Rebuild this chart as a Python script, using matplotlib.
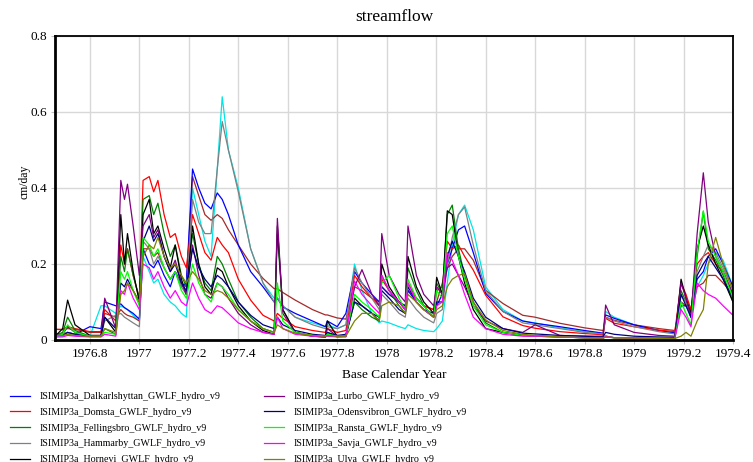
import matplotlib
matplotlib.use("Agg")
import matplotlib.pyplot as plt
from matplotlib.ticker import FuncFormatter, MultipleLocator

plt.rcParams['font.family'] = ['Liberation Serif', 'DejaVu Serif']

# shared time knots (Base Calendar Year)
years = [1976.660, 1976.690, 1976.710, 1976.740, 1976.800, 1976.845, 1976.860, 1976.905,
         1976.925, 1976.940, 1976.952, 1976.975, 1977.000, 1977.015, 1977.040, 1977.058,
         1977.075, 1977.100, 1977.125, 1977.145, 1977.170, 1977.190, 1977.215, 1977.240,
         1977.265, 1977.290, 1977.315, 1977.335, 1977.360, 1977.400, 1977.450, 1977.500,
         1977.545, 1977.558, 1977.580, 1977.630, 1977.700, 1977.752, 1977.760, 1977.800,
         1977.835, 1977.870, 1977.900, 1977.940, 1977.970, 1977.980, 1978.010, 1978.050,
         1978.075, 1978.086, 1978.120, 1978.150, 1978.190, 1978.202, 1978.225, 1978.245,
         1978.265, 1978.290, 1978.315, 1978.350, 1978.400, 1978.470, 1978.550, 1978.600,
         1978.700, 1978.800, 1978.875, 1978.885, 1978.920, 1979.000, 1979.100, 1979.165,
         1979.190, 1979.210, 1979.230, 1979.255, 1979.280, 1979.300, 1979.330, 1979.360,
         1979.400]

# streamflow, cm/day
dalkarlshyttan = [0.015, 0.015, 0.02, 0.015, 0.035, 0.03, 0.10, 0.09, 0.095, 0.085, 0.08, 0.07,
                  0.055, 0.24, 0.20, 0.19, 0.21, 0.17, 0.14, 0.18, 0.14, 0.15, 0.45, 0.40,
                  0.36, 0.345, 0.387, 0.37, 0.33, 0.25, 0.18, 0.14, 0.10, 0.11, 0.087, 0.07,
                  0.05, 0.035, 0.05, 0.035, 0.07, 0.18, 0.15, 0.12, 0.10, 0.14, 0.12, 0.10,
                  0.09, 0.13, 0.10, 0.08, 0.07, 0.09, 0.12, 0.20, 0.24, 0.29, 0.30, 0.23,
                  0.123, 0.075, 0.05, 0.044, 0.035, 0.025, 0.018, 0.066, 0.057, 0.04, 0.025, 0.019,
                  0.09, 0.09, 0.07, 0.16, 0.18, 0.22, 0.24, 0.20, 0.14]
domsta = [0.028, 0.028, 0.035, 0.03, 0.022, 0.022, 0.08, 0.05, 0.25, 0.20, 0.24, 0.17,
          0.11, 0.42, 0.43, 0.39, 0.42, 0.33, 0.27, 0.28, 0.22, 0.19, 0.33, 0.28,
          0.23, 0.21, 0.27, 0.25, 0.23, 0.16, 0.105, 0.065, 0.05, 0.07, 0.057, 0.035,
          0.025, 0.02, 0.03, 0.02, 0.025, 0.17, 0.14, 0.11, 0.09, 0.16, 0.13, 0.10,
          0.08, 0.15, 0.11, 0.09, 0.08, 0.13, 0.14, 0.26, 0.24, 0.25, 0.22, 0.184,
          0.118, 0.061, 0.038, 0.031, 0.022, 0.017, 0.014, 0.057, 0.044, 0.035, 0.026, 0.022,
          0.15, 0.12, 0.08, 0.20, 0.22, 0.23, 0.20, 0.18, 0.12]
fellingsbro = [0.012, 0.02, 0.06, 0.025, 0.01, 0.01, 0.03, 0.015, 0.22, 0.18, 0.24, 0.17,
               0.11, 0.37, 0.38, 0.33, 0.36, 0.28, 0.22, 0.25, 0.17, 0.14, 0.28, 0.20,
               0.15, 0.13, 0.22, 0.20, 0.16, 0.10, 0.06, 0.03, 0.02, 0.28, 0.08, 0.02,
               0.012, 0.008, 0.02, 0.008, 0.01, 0.10, 0.08, 0.06, 0.05, 0.17, 0.13, 0.09,
               0.07, 0.19, 0.13, 0.09, 0.06, 0.15, 0.12, 0.33, 0.355, 0.24, 0.17, 0.10,
               0.045, 0.02, 0.012, 0.012, 0.008, 0.006, 0.005, 0.008, 0.006, 0.005, 0.004, 0.004,
               0.13, 0.10, 0.06, 0.22, 0.338, 0.24, 0.21, 0.17, 0.10]
hammarby = [0.015, 0.015, 0.02, 0.015, 0.012, 0.012, 0.05, 0.065, 0.07, 0.06, 0.055, 0.045,
            0.035, 0.26, 0.24, 0.20, 0.22, 0.19, 0.16, 0.18, 0.14, 0.12, 0.37, 0.31,
            0.28, 0.28, 0.45, 0.575, 0.50, 0.39, 0.24, 0.15, 0.10, 0.11, 0.09, 0.06,
            0.04, 0.03, 0.035, 0.03, 0.04, 0.19, 0.15, 0.11, 0.08, 0.12, 0.10, 0.07,
            0.06, 0.11, 0.08, 0.06, 0.045, 0.07, 0.08, 0.20, 0.27, 0.33, 0.35, 0.25,
            0.13, 0.075, 0.045, 0.04, 0.03, 0.02, 0.016, 0.06, 0.05, 0.035, 0.022, 0.016,
            0.12, 0.10, 0.06, 0.18, 0.22, 0.25, 0.23, 0.19, 0.13]
hornevi = [0.01, 0.03, 0.105, 0.04, 0.012, 0.012, 0.06, 0.02, 0.33, 0.20, 0.28, 0.18,
           0.10, 0.33, 0.37, 0.28, 0.30, 0.24, 0.19, 0.25, 0.16, 0.12, 0.30, 0.20,
           0.14, 0.12, 0.19, 0.18, 0.14, 0.09, 0.05, 0.025, 0.015, 0.30, 0.08, 0.02,
           0.01, 0.008, 0.05, 0.01, 0.01, 0.11, 0.09, 0.07, 0.05, 0.20, 0.14, 0.10,
           0.08, 0.22, 0.14, 0.10, 0.07, 0.165, 0.12, 0.34, 0.33, 0.22, 0.15, 0.08,
           0.03, 0.02, 0.012, 0.01, 0.008, 0.006, 0.005, 0.01, 0.006, 0.005, 0.004, 0.004,
           0.16, 0.11, 0.07, 0.24, 0.30, 0.25, 0.20, 0.16, 0.10]
lurbo = [0.012, 0.015, 0.035, 0.02, 0.01, 0.01, 0.11, 0.03, 0.42, 0.37, 0.41, 0.30,
         0.17, 0.30, 0.33, 0.27, 0.29, 0.22, 0.18, 0.21, 0.15, 0.12, 0.25, 0.17,
         0.12, 0.11, 0.15, 0.14, 0.11, 0.07, 0.04, 0.02, 0.015, 0.32, 0.07, 0.02,
         0.01, 0.008, 0.03, 0.01, 0.01, 0.14, 0.185, 0.12, 0.09, 0.28, 0.17, 0.12,
         0.10, 0.30, 0.17, 0.12, 0.09, 0.14, 0.12, 0.19, 0.20, 0.17, 0.14, 0.09,
         0.05, 0.03, 0.02, 0.04, 0.012, 0.01, 0.01, 0.092, 0.04, 0.02, 0.012, 0.01,
         0.15, 0.11, 0.06, 0.28, 0.44, 0.31, 0.22, 0.18, 0.12]
odensvibron = [0.012, 0.012, 0.02, 0.015, 0.01, 0.01, 0.06, 0.03, 0.15, 0.14, 0.16, 0.13,
               0.10, 0.26, 0.30, 0.26, 0.28, 0.22, 0.18, 0.20, 0.15, 0.13, 0.24, 0.19,
               0.16, 0.14, 0.17, 0.16, 0.14, 0.10, 0.065, 0.04, 0.03, 0.06, 0.04, 0.025,
               0.015, 0.012, 0.02, 0.012, 0.015, 0.10, 0.09, 0.07, 0.06, 0.13, 0.11, 0.08,
               0.07, 0.14, 0.10, 0.08, 0.06, 0.10, 0.10, 0.22, 0.26, 0.22, 0.18, 0.11,
               0.06, 0.03, 0.018, 0.016, 0.012, 0.01, 0.008, 0.02, 0.015, 0.01, 0.008, 0.007,
               0.12, 0.09, 0.06, 0.17, 0.20, 0.22, 0.19, 0.16, 0.11]
ransta = [0.01, 0.015, 0.04, 0.02, 0.01, 0.01, 0.02, 0.015, 0.18, 0.16, 0.18, 0.13,
          0.09, 0.27, 0.25, 0.22, 0.24, 0.19, 0.16, 0.18, 0.13, 0.11, 0.20, 0.15,
          0.12, 0.10, 0.15, 0.14, 0.12, 0.08, 0.05, 0.03, 0.02, 0.15, 0.05, 0.02,
          0.012, 0.01, 0.015, 0.01, 0.01, 0.12, 0.10, 0.08, 0.06, 0.15, 0.17, 0.11,
          0.08, 0.16, 0.11, 0.09, 0.06, 0.13, 0.11, 0.28, 0.30, 0.22, 0.16, 0.09,
          0.04, 0.02, 0.012, 0.01, 0.008, 0.006, 0.005, 0.01, 0.006, 0.005, 0.004, 0.004,
          0.10, 0.07, 0.04, 0.23, 0.34, 0.26, 0.22, 0.18, 0.11]
savja = [0.008, 0.008, 0.012, 0.01, 0.008, 0.008, 0.015, 0.01, 0.13, 0.12, 0.15, 0.11,
         0.08, 0.20, 0.19, 0.16, 0.18, 0.14, 0.11, 0.13, 0.10, 0.09, 0.15, 0.11,
         0.08, 0.07, 0.09, 0.085, 0.07, 0.045, 0.03, 0.02, 0.015, 0.06, 0.03, 0.015,
         0.01, 0.008, 0.01, 0.008, 0.008, 0.155, 0.12, 0.09, 0.07, 0.17, 0.13, 0.10,
         0.08, 0.15, 0.10, 0.08, 0.06, 0.09, 0.10, 0.23, 0.21, 0.17, 0.12, 0.06,
         0.03, 0.015, 0.01, 0.01, 0.008, 0.006, 0.005, 0.01, 0.006, 0.005, 0.004, 0.004,
         0.08, 0.06, 0.035, 0.15, 0.13, 0.12, 0.11, 0.09, 0.065]
ulva = [0.012, 0.012, 0.015, 0.012, 0.01, 0.01, 0.03, 0.02, 0.12, 0.13, 0.15, 0.13,
        0.10, 0.22, 0.25, 0.24, 0.27, 0.22, 0.19, 0.20, 0.17, 0.15, 0.18, 0.16,
        0.13, 0.12, 0.13, 0.125, 0.11, 0.08, 0.05, 0.03, 0.02, 0.04, 0.03, 0.018,
        0.012, 0.01, 0.012, 0.01, 0.01, 0.05, 0.07, 0.07, 0.05, 0.09, 0.10, 0.09,
        0.07, 0.12, 0.10, 0.08, 0.06, 0.08, 0.09, 0.14, 0.16, 0.17, 0.175, 0.10,
        0.053, 0.025, 0.015, 0.012, 0.008, 0.006, 0.005, 0.008, 0.006, 0.005, 0.004, 0.004,
        0.01, 0.02, 0.01, 0.05, 0.08, 0.20, 0.27, 0.20, 0.13]
# two further catchments drawn in the plot (their legend rows fall below the image)
extra_cyan = [0.01, 0.01, 0.015, 0.012, 0.01, 0.09, 0.09, 0.07, 0.09, 0.085, 0.08, 0.065,
              0.05, 0.22, 0.18, 0.15, 0.16, 0.12, 0.10, 0.09, 0.07, 0.06, 0.40, 0.33,
              0.26, 0.22, 0.45, 0.64, 0.50, 0.40, 0.24, 0.15, 0.11, 0.11, 0.09, 0.06,
              0.045, 0.035, 0.04, 0.03, 0.04, 0.20, 0.13, 0.07, 0.045, 0.05, 0.045, 0.035,
              0.03, 0.04, 0.03, 0.025, 0.022, 0.03, 0.05, 0.15, 0.25, 0.33, 0.355, 0.29,
              0.14, 0.08, 0.05, 0.045, 0.032, 0.022, 0.017, 0.075, 0.06, 0.04, 0.025, 0.018,
              0.10, 0.09, 0.06, 0.14, 0.17, 0.20, 0.23, 0.21, 0.14]
extra_brown = [0.028, 0.027, 0.03, 0.028, 0.02, 0.02, 0.07, 0.06, 0.08, 0.07, 0.065, 0.06,
               0.05, 0.24, 0.24, 0.22, 0.23, 0.19, 0.16, 0.18, 0.15, 0.14, 0.43, 0.38,
               0.33, 0.315, 0.33, 0.32, 0.29, 0.25, 0.20, 0.162, 0.135, 0.135, 0.125, 0.105,
               0.08, 0.066, 0.066, 0.058, 0.055, 0.14, 0.13, 0.11, 0.10, 0.14, 0.12, 0.10,
               0.09, 0.13, 0.11, 0.09, 0.08, 0.10, 0.15, 0.19, 0.22, 0.24, 0.24, 0.21,
               0.131, 0.096, 0.065, 0.06, 0.044, 0.032, 0.025, 0.06, 0.052, 0.04, 0.03, 0.025,
               0.10, 0.09, 0.07, 0.14, 0.15, 0.17, 0.17, 0.15, 0.12]

series = [
    ("ISIMIP3a_Dalkarlshyttan_GWLF_hydro_v9", dalkarlshyttan, "#0000ff"),
    ("ISIMIP3a_Domsta_GWLF_hydro_v9", domsta, "#ff0000"),
    ("ISIMIP3a_Fellingsbro_GWLF_hydro_v9", fellingsbro, "#008000"),
    ("ISIMIP3a_Hammarby_GWLF_hydro_v9", hammarby, "#808080"),
    ("ISIMIP3a_Hornevi_GWLF_hydro_v9", hornevi, "#000000"),
    ("ISIMIP3a_Lurbo_GWLF_hydro_v9", lurbo, "#800080"),
    ("ISIMIP3a_Odensvibron_GWLF_hydro_v9", odensvibron, "#000080"),
    ("ISIMIP3a_Ransta_GWLF_hydro_v9", ransta, "#00ff00"),
    ("ISIMIP3a_Savja_GWLF_hydro_v9", savja, "#ff00ff"),
    ("ISIMIP3a_Ulva_GWLF_hydro_v9", ulva, "#808000"),
]
extras = [(extra_cyan, "#00e5e5"), (extra_brown, "#a52a2a")]

fig = plt.figure(figsize=(7.53, 4.62), dpi=100)
ax = fig.add_axes([55/753, 122/462, 678/753, 304/462])

for vals, col in extras:
    ax.plot(years, vals, color=col, lw=0.9, label='_nolegend_')
handles = []
for name, vals, col in series:
    h, = ax.plot(years, vals, color=col, lw=0.9, label=name)
    handles.append(h)

ax.set_xlim(1976.659, 1979.4)
ax.set_ylim(0, 0.8)
ax.xaxis.set_major_locator(MultipleLocator(0.2))
ax.yaxis.set_major_locator(MultipleLocator(0.2))
fmt = FuncFormatter(lambda v, p: ('%.1f' % v).rstrip('0').rstrip('.'))
ax.xaxis.set_major_formatter(fmt)
ax.yaxis.set_major_formatter(fmt)
ax.grid(True, color='#d8d8d8', lw=1)
ax.set_axisbelow(True)
ax.tick_params(labelsize=9.5, length=3, color='#c0c0c0', pad=3)
for s in ax.spines.values():
    s.set_linewidth(1.3)
ax.spines['left'].set_linewidth(2)
ax.spines['bottom'].set_linewidth(2)

ax.set_title('streamflow', fontsize=12.5, pad=11)
ax.set_xlabel('Base Calendar Year', fontsize=9.5, labelpad=6)
ax.set_ylabel('cm/day', fontsize=8.5)
ax.yaxis.set_label_coords(-0.036, 0.52)

# legend runs off the bottom of the image, as in the original export
fig.legend(handles=handles, ncol=2, loc='upper left', bbox_to_anchor=(10/753, 1 - 392/462),
           frameon=False, fontsize=7.2, handlelength=2.0, handletextpad=1.0,
           labelspacing=0.68, columnspacing=4.3, borderpad=0, borderaxespad=0)

fig.savefig('out.png', dpi=100)
